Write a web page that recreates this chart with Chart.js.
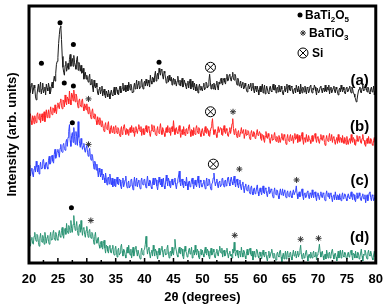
<!DOCTYPE html>
<html>
<head>
<meta charset="utf-8">
<script src="https://cdn.jsdelivr.net/npm/chart.js@4.4.0/dist/chart.umd.min.js"></script>
<style>
  html, body { margin: 0; padding: 0; background: #fff; }
  #wrap { width: 392px; height: 306px; }
</style>
</head>
<body>
<div id="wrap"><canvas id="xrdChart" width="392" height="306"></canvas></div>
<script>
// scan : 20 -> 80 deg, pas 0.125
const thetaStart = 20;
const thetaStep = 0.125;
const xTicks = [20, 25, 30, 35, 40, 45, 50, 55, 60, 65, 70, 75, 80];

// (a) noir
const seriesA = [
  181,172,174,179,182,171,175,180,177,168,165,170,176,181,173,178,183,171,176,182,172,175,178,170,181,177,174,182,178,171,173,179,183,177,184,189,184,192,201,204,
  208,222,231,238,240,226,209,198,193,190,200,204,194,197,202,196,206,211,199,204,207,199,210,203,200,196,206,209,195,203,201,194,200,192,193,197,186,191,193,186,
  190,186,183,188,191,180,181,186,178,173,185,179,177,182,178,172,170,176,178,171,175,179,169,173,176,170,167,174,171,168,175,171,166,172,175,170,169,174,178,170,
  172,178,175,171,170,176,179,172,173,177,182,174,175,180,173,177,180,174,183,179,175,181,178,172,173,178,182,176,180,185,176,181,184,176,178,183,186,179,176,182,
  184,179,186,182,179,185,182,178,190,184,181,188,187,183,190,194,184,189,192,186,197,193,190,196,195,189,186,194,192,187,182,186,189,183,190,185,184,188,180,185,
  187,181,186,183,179,184,189,183,180,185,179,183,187,178,180,185,182,179,176,181,184,177,182,186,176,180,184,178,175,182,178,174,181,177,172,178,181,175,179,176,
  174,179,182,175,177,183,182,177,179,184,191,183,176,180,181,176,182,178,175,181,184,178,175,183,181,185,187,182,180,185,187,183,181,187,191,184,185,190,191,186,
  184,189,193,186,185,191,189,183,180,187,185,179,181,184,177,181,183,176,177,182,179,175,173,178,181,176,179,182,174,178,182,175,172,179,176,173,179,175,170,176,
  179,173,177,181,172,176,180,171,174,179,176,172,171,177,179,174,173,178,181,175,175,180,172,177,178,173,180,175,173,179,176,172,170,175,179,173,177,181,172,178,
  180,175,174,179,178,173,171,176,177,172,180,176,173,179,175,171,181,176,172,178,176,173,179,175,171,178,177,172,174,179,180,174,172,177,175,180,178,174,170,177,
  177,172,174,178,179,175,172,177,176,173,180,174,173,178,175,180,171,176,178,172,174,177,179,174,172,178,176,173,170,175,177,173,180,176,173,178,175,172,171,177,
  178,173,174,177,179,174,172,178,176,172,171,168,166,163,165,170,174,176,178,173,172,177,180,174,175,179,181,176,173,178,177,172,171,176,178,173,174,179,170,174,
  176
];
// (b) rouge
const seriesB = [
  143,148,151,144,140,149,147,141,149,145,142,150,152,146,145,151,142,147,151,144,149,153,143,149,155,147,150,155,147,152,158,151,150,157,156,152,160,154,151,158,
  162,158,156,163,166,159,156,165,164,158,170,163,160,168,166,161,174,165,160,172,170,164,175,168,163,171,169,162,157,164,166,160,158,164,166,158,154,161,159,155,
  161,155,151,158,156,150,146,153,156,149,146,151,150,144,140,148,145,140,147,143,138,144,141,136,133,139,142,136,135,140,143,134,131,137,139,132,134,138,131,137,
  139,134,131,137,136,131,128,135,138,130,133,138,140,134,130,136,135,131,129,134,137,132,139,135,132,137,128,133,138,134,131,136,140,135,133,138,129,134,136,130,
  130,135,139,133,132,138,137,131,128,134,140,135,133,139,136,130,129,134,138,132,131,136,141,134,130,137,135,131,128,134,137,132,139,134,132,137,129,135,138,133,
  144,136,130,135,137,132,131,136,139,133,127,132,135,130,138,133,129,135,136,131,133,138,140,133,128,135,134,129,137,132,130,136,139,134,131,137,136,131,128,134,
  136,131,129,135,138,132,131,136,134,129,128,133,137,141,146,135,130,134,135,130,127,133,138,132,132,137,136,130,129,134,139,133,131,136,134,129,128,133,137,131,
  135,141,146,136,130,134,136,131,127,132,134,128,129,133,137,131,131,135,126,131,135,129,130,134,133,128,125,131,134,130,128,133,132,126,127,132,135,129,130,133,
  131,126,124,130,129,125,122,128,133,127,126,131,128,124,121,127,130,124,125,129,132,126,123,128,127,122,129,125,122,127,131,125,124,130,128,123,120,126,130,124,
  123,128,130,124,125,129,121,127,131,125,126,130,122,126,129,123,124,128,132,125,120,126,127,122,130,125,123,129,126,124,121,127,129,123,125,129,131,126,122,127,
  128,123,121,126,130,125,124,129,127,122,119,125,129,124,123,127,131,124,125,130,122,127,128,123,120,125,127,121,130,124,122,127,126,122,129,124,121,127,125,120,
  128,122,120,125,126,121,130,124,122,127,125,120,119,124,129,123,123,128,127,122,121,126,130,124,124,120,118,123,126,121,128,123,121,126,125,120,119,124,127,122,
  123
];
// (c) bleu
const seriesC = [
  99,93,88,94,96,90,87,95,98,92,103,97,92,99,90,97,102,95,96,103,105,99,95,101,102,97,95,104,108,100,101,107,109,103,101,110,115,106,108,113,
  115,111,107,116,120,113,112,119,121,116,114,122,125,118,127,133,140,124,118,129,132,122,137,128,120,133,128,119,143,127,121,117,126,120,115,118,121,114,112,117,
  119,112,108,113,116,107,104,110,108,101,95,103,101,94,100,93,87,96,92,87,95,89,84,90,86,81,91,85,79,86,87,80,90,84,79,86,77,82,85,78,
  77,83,87,80,79,85,84,78,75,82,86,77,80,84,88,79,76,81,83,76,78,84,85,79,74,81,87,78,82,86,77,82,84,78,75,83,86,80,79,84,
  85,80,76,82,88,81,78,84,83,77,75,82,86,79,80,86,84,78,74,80,87,82,79,85,77,81,86,78,75,81,89,83,78,86,83,78,76,82,85,79,
  79,83,86,79,75,81,84,88,93,82,78,84,85,79,76,83,82,78,87,80,74,82,83,77,79,84,86,80,75,81,84,79,77,83,88,81,76,84,82,77,
  77,81,84,79,75,82,86,78,79,85,83,77,74,80,81,86,91,83,78,82,85,79,76,82,83,77,79,85,86,80,77,83,84,78,80,86,87,81,78,84,
  87,82,79,84,88,81,77,83,85,79,76,81,84,77,74,80,82,76,71,78,80,74,73,77,79,72,70,76,78,72,69,75,76,70,71,76,79,72,68,74,
  76,72,69,74,78,71,70,76,75,70,67,73,77,70,71,75,74,69,66,72,76,70,69,74,73,68,65,71,75,69,70,75,68,72,74,68,66,71,73,68,
  67,71,73,68,66,71,74,69,69,73,78,70,65,69,72,67,68,73,75,68,64,70,71,66,67,72,73,67,65,71,70,66,74,69,66,71,72,67,63,69,
  71,67,64,69,72,67,66,71,70,65,63,69,73,68,67,71,65,70,71,66,62,68,69,64,72,67,64,69,68,64,70,66,63,68,71,65,66,70,69,65,
  63,68,70,66,65,69,72,67,64,70,69,64,62,67,71,65,66,71,68,64,63,68,70,65,65,69,61,66,69,63,67,71,72,66,63,69,68,63,64,69,
  66
];
// (d) vert
const seriesD = [
  28,22,17,24,26,20,19,27,31,24,22,29,28,21,17,25,30,23,21,28,25,19,31,25,20,26,28,22,19,27,31,23,24,30,33,26,23,31,29,24,
  23,30,33,27,26,33,36,28,25,34,35,29,40,33,30,38,36,31,43,35,31,39,48,38,33,37,42,33,28,36,39,31,43,34,28,35,36,29,26,33,
  37,30,26,32,34,27,25,31,30,24,19,27,31,23,20,25,26,18,15,21,22,16,14,20,23,15,10,18,17,12,10,16,18,11,10,15,18,10,8,14,
  17,11,6,13,15,8,10,16,19,12,7,14,13,8,5,12,16,10,18,11,8,14,5,10,16,7,10,15,17,11,7,13,13,6,4,11,15,9,8,13,
  14,19,27,16,9,14,16,9,5,11,13,7,18,12,7,14,12,8,4,10,15,8,10,14,17,11,6,13,14,8,9,15,18,10,5,11,12,7,16,10,
  8,15,24,16,12,8,6,13,16,10,9,15,14,7,4,11,17,12,10,6,7,13,15,9,11,16,5,10,13,8,18,11,8,14,12,6,4,10,14,8,
  13,9,6,12,16,10,8,14,12,7,4,10,15,8,9,14,11,6,5,11,14,9,7,13,17,11,10,15,6,11,13,7,8,12,15,9,5,10,12,7,
  9,5,14,10,21,12,7,11,13,8,5,12,11,6,16,10,6,13,12,7,4,10,14,8,9,13,15,9,7,12,3,9,12,6,8,14,13,7,5,11,
  11,7,4,9,13,8,6,11,10,5,2,8,12,5,7,11,14,9,5,10,9,4,3,9,11,7,6,12,13,6,1,7,10,4,7,12,4,9,12,6,
  6,10,11,6,3,9,13,7,8,12,5,9,12,6,9,13,18,9,4,8,10,5,6,11,13,7,2,8,9,5,11,7,5,10,12,6,7,11,3,8,
  10,13,19,11,6,9,12,7,3,8,9,4,13,9,5,10,11,5,7,12,14,8,4,9,10,6,2,7,12,5,8,13,5,9,13,7,6,11,10,5,
  4,9,11,6,7,12,13,8,3,10,9,5,12,7,5,11,10,4,6,10,14,7,2,9,8,13,11,6,4,10,13,8,7,12,9,5,3,8,12,6,
  8
];

// reperes des pics
const dotTheta = [22.15, 25.37, 27.68, 42.5, 26.1, 27.68, 27.5, 27.34];
const dotY     = [202, 243, 221, 203, 182, 179, 142, 56];
const starTheta = [30.3, 55.3, 30.3, 56.4, 66.3, 30.7, 55.6, 67.0, 70.1];
const starY     = [166, 153, 120, 95, 84, 43, 28, 24, 25];
const siTheta = [51.4, 51.4, 51.9];
const siY     = [198, 153, 100];

const panelNames = ['(a)', '(b)', '(c)', '(d)'];
const panelY = [184, 138, 83, 25];
const panelTheta = 77.2;

[seriesA, seriesB, seriesC, seriesD].forEach((s, k) => {
  if (s.length !== 481) throw new Error('serie ' + k + ' : ' + s.length + ' points');
});

function toPoints(arr) {
  return arr.map((v, i) => ({ x: thetaStart + i * thetaStep, y: v }));
}
function pairs(xs, ys) {
  return xs.map((x, i) => ({ x: x, y: ys[i] }));
}

const traceStyle = (color) => ({
  borderColor: color,
  borderWidth: 1,
  pointRadius: 0,
  tension: 0,
  fill: false
});

const boldFont = '"Liberation Sans", Arial, sans-serif';

function drawStar(ctx, cx, cy, r) {
  ctx.beginPath();
  for (let k = 0; k < 4; k++) {
    const a = k * Math.PI / 4;
    ctx.moveTo(cx - r * Math.cos(a), cy - r * Math.sin(a));
    ctx.lineTo(cx + r * Math.cos(a), cy + r * Math.sin(a));
  }
  ctx.stroke();
}

// cadre, graduations, etiquettes (a)-(d) et legende
const framePlugin = {
  id: 'frame',
  afterDraw(chart) {
    const ctx = chart.ctx;
    const a = chart.chartArea;
    const xs = chart.scales.x;
    const ys = chart.scales.y;
    ctx.save();
    ctx.strokeStyle = '#000';
    // graduations vers l'interieur
    ctx.lineWidth = 1.5;
    for (let v = 20; v <= 80; v += 2.5) {
      const px = xs.getPixelForValue(v);
      const len = (v % 5 === 0) ? 5 : 3;
      ctx.beginPath();
      ctx.moveTo(px, a.bottom);
      ctx.lineTo(px, a.bottom - len);
      ctx.stroke();
    }
    ctx.lineWidth = 3;
    ctx.strokeRect(a.left, a.top, a.right - a.left, a.bottom - a.top);

    ctx.fillStyle = '#000';
    ctx.font = 'bold 15px ' + boldFont;
    ctx.textAlign = 'center';
    ctx.textBaseline = 'middle';
    panelNames.forEach((t, i) => {
      ctx.fillText(t, xs.getPixelForValue(panelTheta), ys.getPixelForValue(panelY[i]));
    });

    // legende
    ctx.textAlign = 'left';
    ctx.textBaseline = 'alphabetic';
    ctx.beginPath();
    ctx.arc(300, 15, 2.5, 0, Math.PI * 2);
    ctx.fill();
    let x = 305;
    const big = 'bold 12px ' + boldFont, small = 'bold 8px ' + boldFont;
    const parts1 = [['BaTi', big, 0], ['2', small, 3], ['O', big, 0], ['5', small, 3]];
    parts1.forEach(p => { ctx.font = p[1]; ctx.fillText(p[0], x, 19 + p[2]); x += ctx.measureText(p[0]).width; });

    ctx.strokeStyle = '#333';
    ctx.lineWidth = 1;
    drawStar(ctx, 303, 33, 3);
    x = 309;
    const parts2 = [['BaTiO', big, 0], ['3', small, 3]];
    parts2.forEach(p => { ctx.font = p[1]; ctx.fillText(p[0], x, 37 + p[2]); x += ctx.measureText(p[0]).width; });

    ctx.strokeStyle = '#000';
    ctx.beginPath();
    ctx.arc(303, 53, 5, 0, Math.PI * 2);
    ctx.stroke();
    const d = 5 * Math.SQRT1_2;
    ctx.beginPath();
    ctx.moveTo(303 - d, 53 - d); ctx.lineTo(303 + d, 53 + d);
    ctx.moveTo(303 + d, 53 - d); ctx.lineTo(303 - d, 53 + d);
    ctx.stroke();
    ctx.font = big;
    ctx.fillText('Si', 312, 57);
    ctx.restore();
  }
};

const ctx = document.getElementById('xrdChart').getContext('2d');
const xrdChart = new Chart(ctx, {
  type: 'line',
  data: {
    datasets: [
      Object.assign({ label: '(a)', data: toPoints(seriesA) }, traceStyle('#1c1c1c')),
      Object.assign({ label: '(b)', data: toPoints(seriesB) }, traceStyle('#ff2424')),
      Object.assign({ label: '(c)', data: toPoints(seriesC) }, traceStyle('#3344ff')),
      Object.assign({ label: '(d)', data: toPoints(seriesD) }, traceStyle('#2b9474')),
      {
        type: 'scatter', label: 'BaTi2O5', data: pairs(dotTheta, dotY),
        pointStyle: 'circle', pointRadius: 2.5, backgroundColor: '#000', borderWidth: 0
      },
      {
        type: 'scatter', label: 'BaTiO3', data: pairs(starTheta, starY),
        pointStyle: 'star', pointRadius: 3, borderColor: '#333', borderWidth: 1
      },
      {
        type: 'scatter', label: 'Si', data: pairs(siTheta, siY),
        pointStyle: 'circle', pointRadius: 5, backgroundColor: 'rgba(255,255,255,0)',
        borderColor: '#000', borderWidth: 1
      },
      {
        type: 'scatter', label: 'Si x', data: pairs(siTheta, siY),
        pointStyle: 'crossRot', pointRadius: 5, borderColor: '#000', borderWidth: 1
      }
    ]
  },
  options: {
    responsive: false,
    animation: false,
    layout: { padding: { top: 3, right: 9, bottom: 0, left: 0 } },
    plugins: {
      legend: { display: false },
      tooltip: { enabled: false }
    },
    scales: {
      x: {
        type: 'linear',
        min: 20,
        max: 80,
        afterBuildTicks: (s) => { s.ticks = xTicks.map(v => ({ value: v })); },
        grid: { display: false, drawTicks: false },
        border: { display: false },
        ticks: {
          color: '#000',
          padding: 9,
          maxRotation: 0,
          font: { family: boldFont, size: 13, weight: 'bold' }
        },
        title: {
          display: true,
          text: '2θ (degrees)',
          color: '#000',
          padding: { top: 0, bottom: 1 },
          font: { family: boldFont, size: 13, weight: 'bold' }
        },
        afterFit: (s) => { s.height = 43; }
      },
      y: {
        min: 0,
        max: 260,
        grid: { display: false, drawTicks: false },
        border: { display: false },
        ticks: { display: false },
        title: {
          display: true,
          text: 'Intensity (arb. units)',
          color: '#000',
          padding: { top: 5, bottom: 0 },
          font: { family: boldFont, size: 13, weight: 'bold' }
        },
        afterFit: (s) => { s.width = 29; }
      }
    }
  },
  plugins: [framePlugin]
});
</script>
</body>
</html>
